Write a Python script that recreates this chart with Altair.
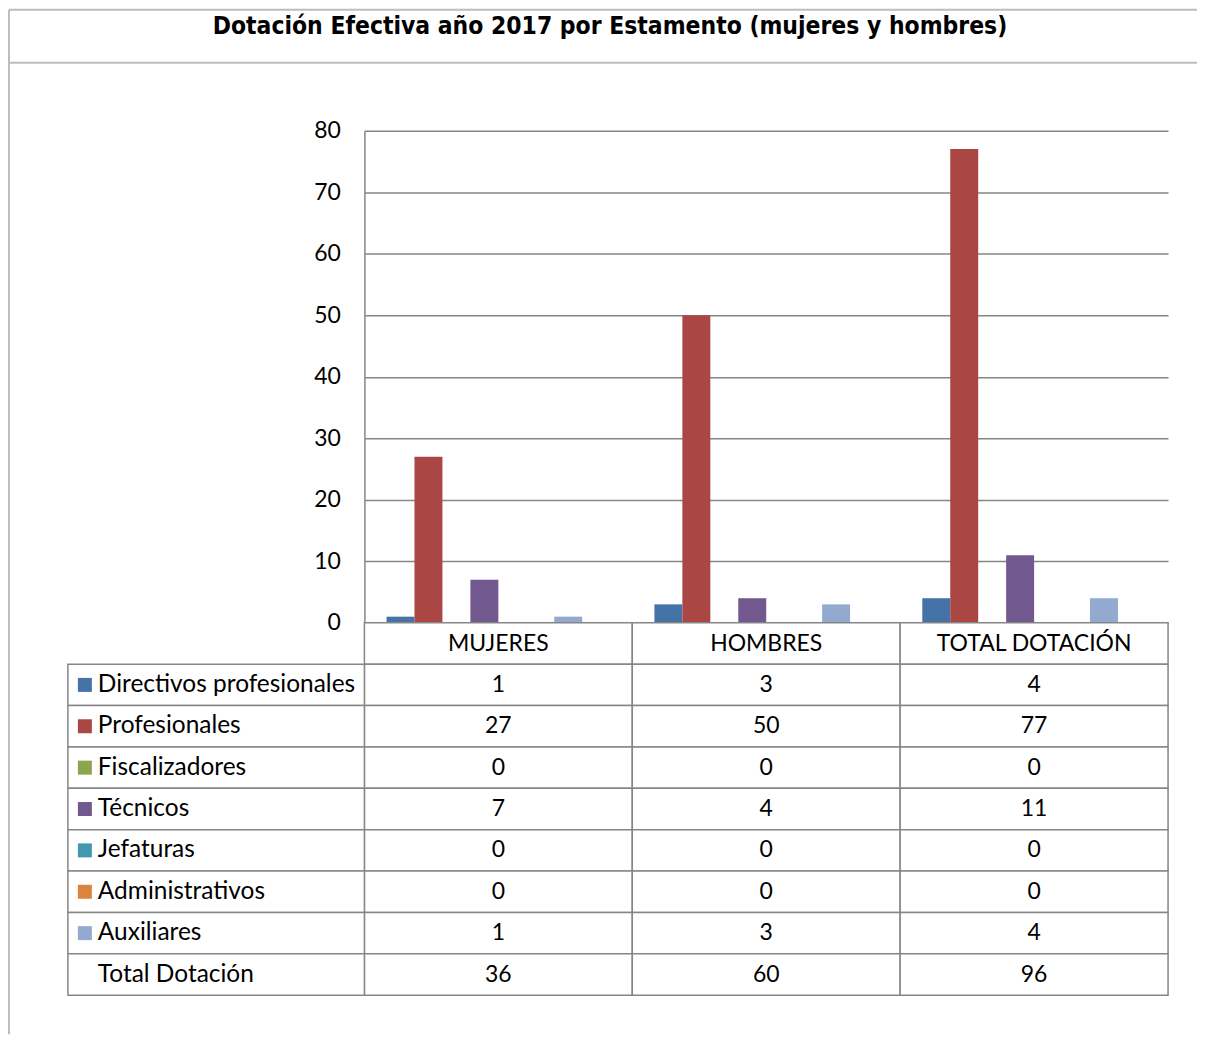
import altair as alt
import pandas as pd

title_text = "Dotación Efectiva año 2017 por Estamento (mujeres y hombres)"
groups = ["MUJERES", "HOMBRES", "TOTAL DOTACIÓN"]
series = ["Directivos profesionales", "Profesionales", "Fiscalizadores", "Técnicos",
          "Jefaturas", "Administrativos", "Auxiliares"]
colors = ["#4572A7", "#AA4643", "#89A54E", "#71588F", "#4198AF", "#DB843D", "#93A9CF"]
directivos = [1, 3, 4]
profesionales = [27, 50, 77]
fiscalizadores = [0, 0, 0]
tecnicos = [7, 4, 11]
jefaturas = [0, 0, 0]
administrativos = [0, 0, 0]
auxiliares = [1, 3, 4]
total_label = "Total Dotación"
totals = [36, 60, 96]
y_ticks = [0, 10, 20, 30, 40, 50, 60, 70, 80]

values = [directivos, profesionales, fiscalizadores, tecnicos, jefaturas, administrativos, auxiliares]

rows = []
for s, vals in zip(series, values):
    for g, v in zip(groups, vals):
        rows.append({"group": g, "series": s, "value": v})
df = pd.DataFrame(rows)

HEADER = "_header"
row_order = [HEADER] + series + [total_label]

cells = []
for g in groups:
    cells.append({"row": HEADER, "group": g, "text": g})
for s, vals in zip(series, values):
    for g, v in zip(groups, vals):
        cells.append({"row": s, "group": g, "text": str(v)})
for g, v in zip(groups, totals):
    cells.append({"row": total_label, "group": g, "text": str(v)})
cells_df = pd.DataFrame(cells)
labels_df = pd.DataFrame({"row": series + [total_label]})
legend_df = pd.DataFrame({"row": series, "series": series})

FONT = "Lato"
FS = 23
FS_LAB = 24.5
GRAY = "#868686"
W = 805
H = 493

color_scale = alt.Scale(domain=series, range=colors)
# Excel leaves one empty slot after the last series in each category
offset_domain = series + ["_gap"]
x_scale = alt.Scale(domain=groups, paddingInner=0.1652, paddingOuter=0.0826)

bars = alt.Chart(df).mark_bar().encode(
    x=alt.X("group:N", sort=groups, scale=x_scale, axis=None),
    xOffset=alt.XOffset("series:N", scale=alt.Scale(domain=offset_domain, paddingInner=0, paddingOuter=0)),
    y=alt.Y("value:Q", scale=alt.Scale(domain=[0, 80]),
            axis=alt.Axis(values=y_ticks, title=None, grid=True, gridColor=GRAY, gridWidth=1.5,
                          domain=True, domainColor=GRAY, domainWidth=1.5, ticks=False,
                          labelPadding=24, labelFont=FONT, labelFontSize=FS, labelColor="black")),
    color=alt.Color("series:N", scale=color_scale, legend=None),
)

frame_df = pd.DataFrame({"k": ["a"]})
frame_color = "#BDBDBD"
top_line = alt.Chart(frame_df).mark_rule(color=frame_color, strokeWidth=2).encode(
    x=alt.value(-356), x2=alt.value(834), y=alt.value(-121))
mid_line = alt.Chart(frame_df).mark_rule(color=frame_color, strokeWidth=2).encode(
    x=alt.value(-356), x2=alt.value(834), y=alt.value(-68))
left_line = alt.Chart(frame_df).mark_rule(color=frame_color, strokeWidth=2).encode(
    x=alt.value(-356), y=alt.value(-121), y2=alt.value(905))

title_mark = alt.Chart(pd.DataFrame({"t": [title_text]})).mark_text(
    font="Liberation Sans Narrow, DejaVu Sans Condensed, Roboto Condensed, Roboto, sans-serif",
    fontWeight="bold", fontSize=24.5, align="center",
    baseline="middle", color="black").encode(
    x=alt.value(246), y=alt.value(-104), text="t:N")

top = alt.layer(bars, top_line, mid_line, left_line, title_mark).properties(width=W, height=H)

y_row = alt.Y("row:N", sort=row_order, scale=alt.Scale(domain=row_order, paddingInner=0, paddingOuter=0), axis=None)
x_grp = alt.X("group:N", sort=groups, scale=alt.Scale(domain=groups, paddingInner=0, paddingOuter=0), axis=None)

val_cells = alt.Chart(cells_df).mark_rect(fill="white", stroke=GRAY, strokeWidth=1.5).encode(
    x=x_grp, y=y_row)
lab_cells = alt.Chart(labels_df).mark_rect(fill="white", stroke=GRAY, strokeWidth=1.5).encode(
    x=alt.value(-297), x2=alt.value(0), y=y_row)
val_text = alt.Chart(cells_df).mark_text(font=FONT, fontSize=FS, color="black", align="center",
                                         baseline="middle").encode(x=x_grp, y=y_row, text="text:N")
lab_text = alt.Chart(labels_df).mark_text(font=FONT, fontSize=FS_LAB, color="black", align="left",
                                          baseline="middle").encode(x=alt.value(-267), y=y_row, text="row:N")
legend_sq = alt.Chart(legend_df).mark_square(size=196, opacity=1).encode(
    x=alt.value(-280), y=y_row, color=alt.Color("series:N", scale=color_scale, legend=None))

table = alt.layer(val_cells, lab_cells, val_text, lab_text, legend_sq).properties(width=W, height=373)

chart = alt.vconcat(top, table, spacing=0, bounds="flush").properties(
    padding=0, background="white"
).configure_view(stroke=None)

chart.save("out.html", embed_options={"renderer": "svg", "actions": False})
